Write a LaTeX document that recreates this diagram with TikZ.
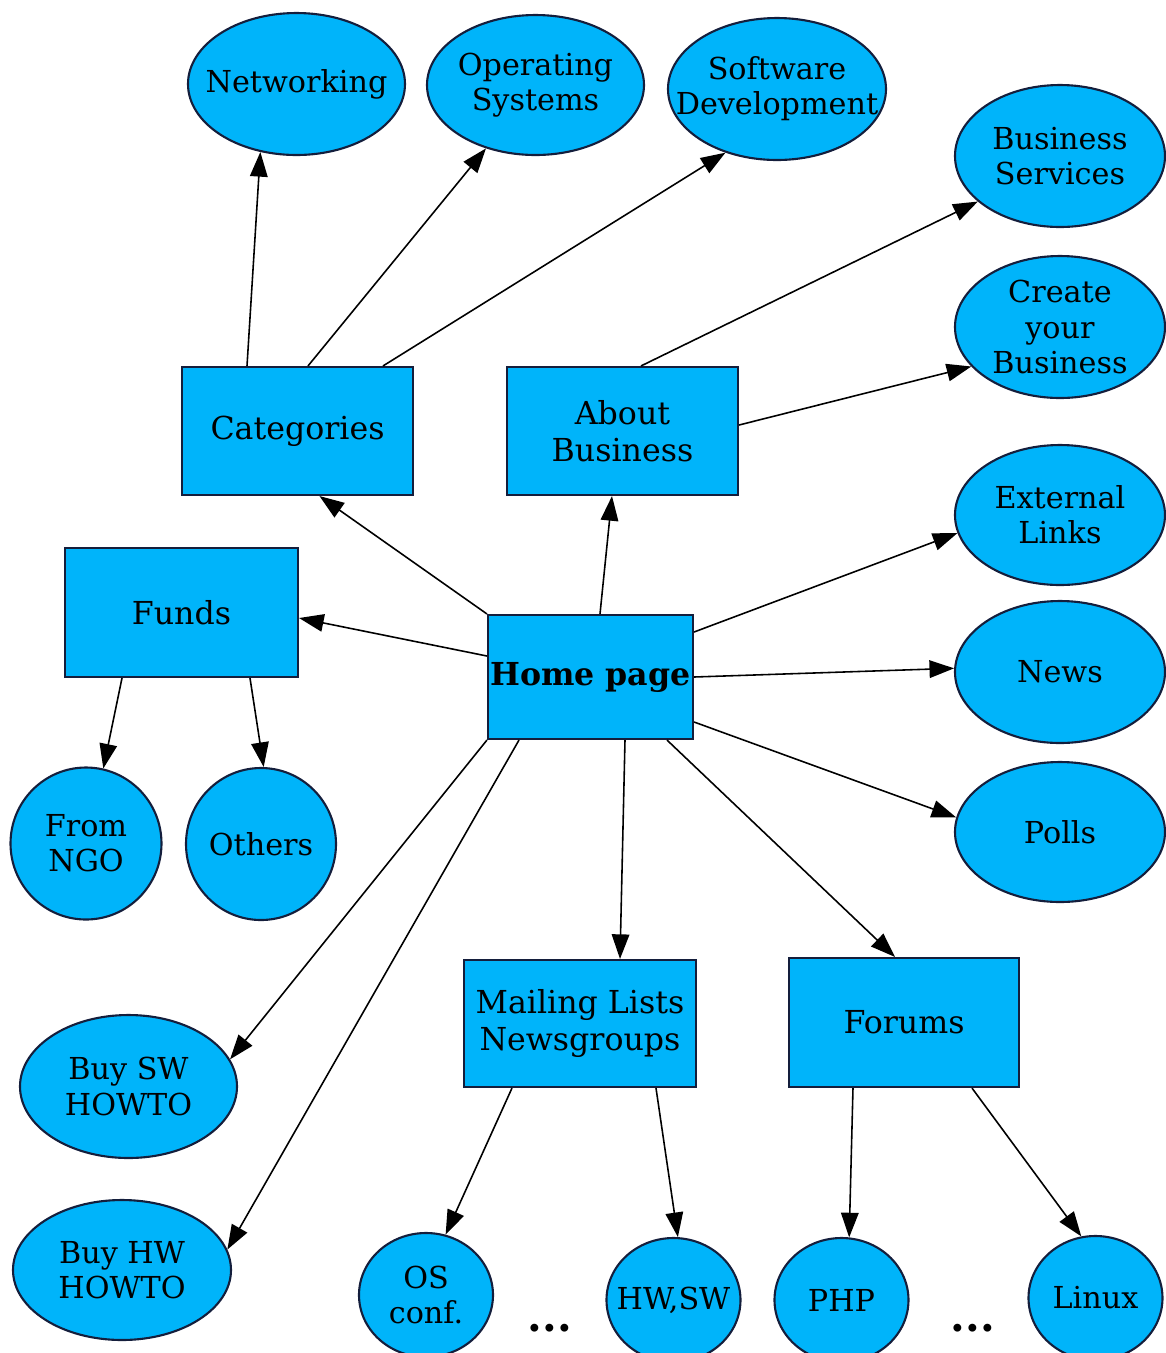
\documentclass[tikz,border=0pt]{standalone}
\usepackage{fontspec}
\setmainfont{DejaVu Serif}
\usetikzlibrary{shapes.geometric, arrows.meta}
\definecolor{boxfill}{RGB}{0,180,250}
\definecolor{rim}{RGB}{20,30,60}

\begin{document}
\begin{tikzpicture}
\tikzstyle{box} = [rectangle, draw=rim, line width=0.6pt, fill=boxfill, align=center,
    font=\fontsize{9}{10.5}\selectfont, minimum width=2.31cm, minimum height=1.28cm, inner sep=0pt]
\tikzstyle{bubble} = [ellipse, draw=rim, line width=0.6pt, fill=boxfill,
    minimum width=2.17cm, minimum height=1.42cm, inner sep=0pt]
\tikzstyle{roundish} = [bubble, minimum width=1.51cm, minimum height=1.52cm]
\tikzstyle{leaf} = [bubble, minimum width=1.34cm, minimum height=1.24cm]
\tikzstyle{txt} = [align=center, font=\fontsize{8.6}{10}\selectfont]
\tikzstyle{line} = [draw, line width=0.45pt, -{Triangle[length=7pt,width=5pt]}]
    \path [use as bounding box, clip] (0,0) rectangle (11.66,-13.53);

    % Place nodes
    \node [box, minimum width=2.05cm, minimum height=1.24cm] (home) at (5.905,-6.77) {\textbf{Home page}};
    \node [box] (cat) at (2.975,-4.31) {Categories};
    \node [box] (about) at (6.225,-4.31) {About\\Business};
    \node [box, minimum width=2.33cm, minimum height=1.29cm] (funds) at (1.815,-6.125) {Funds};
    \node [box, minimum width=2.32cm, minimum height=1.27cm] (mail) at (5.80,-10.235) {Mailing Lists\\Newsgroups};
    \node [box, minimum width=2.30cm, minimum height=1.29cm] (forum) at (9.04,-10.225) {Forums};

    \node [bubble, label={[txt]center:Networking}] (net) at (2.965,-0.84) {};
    \node [bubble, minimum height=1.40cm, label={[txt]center:Operating\\Systems}] (os) at (5.355,-0.85) {};
    \node [bubble, minimum width=2.18cm, label={[txt]center:Software\\Development}] (swdev) at (7.77,-0.89) {};
    \node [bubble, minimum width=2.10cm, label={[txt]center:Business\\Services}] (bserv) at (10.60,-1.56) {};
    \node [bubble, minimum width=2.10cm, label={[txt]center:Create\\your\\Business}] (create) at (10.60,-3.27) {};
    \node [bubble, minimum width=2.10cm, minimum height=1.40cm, label={[txt]center:External\\Links}] (ext) at (10.60,-5.15) {};
    \node [bubble, minimum width=2.10cm, label={[txt]center:News}] (news) at (10.60,-6.72) {};
    \node [bubble, minimum width=2.10cm, minimum height=1.40cm, label={[txt]center:Polls}] (polls) at (10.60,-8.32) {};
    \node [roundish, label={[txt]center:From\\NGO}] (ngo) at (0.86,-8.435) {};
    \node [roundish, minimum width=1.50cm, label={[txt]center:Others}] (others) at (2.61,-8.44) {};
    \node [bubble, minimum height=1.43cm, label={[txt]center:Buy SW\\HOWTO}] (buysw) at (1.285,-10.865) {};
    \node [bubble, minimum width=2.18cm, minimum height=1.40cm, label={[txt]center:Buy HW\\HOWTO}] (buyhw) at (1.22,-12.70) {};
    \node [leaf, label={[txt]center:OS\\conf.}] (osconf) at (4.26,-12.95) {};
    \node [leaf, label={[txt]center:{HW,SW}}] (hwsw) at (6.735,-13.00) {};
    \node [leaf, label={[txt]center:PHP}] (php) at (8.415,-13.00) {};
    \node [leaf, label={[txt]center:Linux}] (linux) at (10.955,-12.98) {};
    \node [anchor=base, font=\fontsize{12}{12}\selectfont] (dotsa) at (5.50,-13.31) {\textbf{...}};
    \node [anchor=base, font=\fontsize{12}{12}\selectfont] (dotsb) at (9.73,-13.31) {\textbf{...}};

    % paths
    \path [line] ([xshift=-0.505cm]cat.north) -- (net.242);
    \path [line] ([xshift=0.105cm]cat.north) -- (os.232);
    \path [line] ([xshift=0.855cm]cat.north) -- (swdev.231);
    \path [line] ([xshift=0.185cm]about.north) -- (bserv.209);
    \path [line] ([yshift=0.06cm]about.east) -- (create.204);

    \path [line] (home.north west) -- ([xshift=0.22cm]cat.south);
    \path [line] ([xshift=0.095cm]home.north) -- ([xshift=-0.105cm]about.south);
    \path [line] ([yshift=0.21cm]home.west) -- ([yshift=-0.055cm]funds.east);
    \path [line] ([yshift=0.45cm]home.east) -- (ext.190);
    \path [line] (home.east) -- (news.178);
    \path [line] ([yshift=-0.45cm]home.east) -- (polls.172);
    \path [line] ([xshift=0.345cm]home.south) -- ([xshift=0.40cm]mail.north);
    \path [line] ([xshift=0.765cm]home.south) -- ([xshift=-0.09cm]forum.north);
    \path [line] (home.south west) -- (buysw.15);
    \path [line] ([xshift=-0.715cm]home.south) -- (buyhw.11);

    \path [line] ([xshift=-0.595cm]funds.south) -- (ngo.77);
    \path [line] ([xshift=0.685cm]funds.south) -- (others.88);
    \path [line] ([xshift=-0.68cm]mail.south) -- (osconf.72);
    \path [line] ([xshift=0.76cm]mail.south) -- (hwsw.86);
    \path [line] ([xshift=-0.51cm]forum.south) -- (php.83);
    \path [line] ([xshift=0.68cm]forum.south) -- (linux.103);

\end{tikzpicture}
\end{document}
